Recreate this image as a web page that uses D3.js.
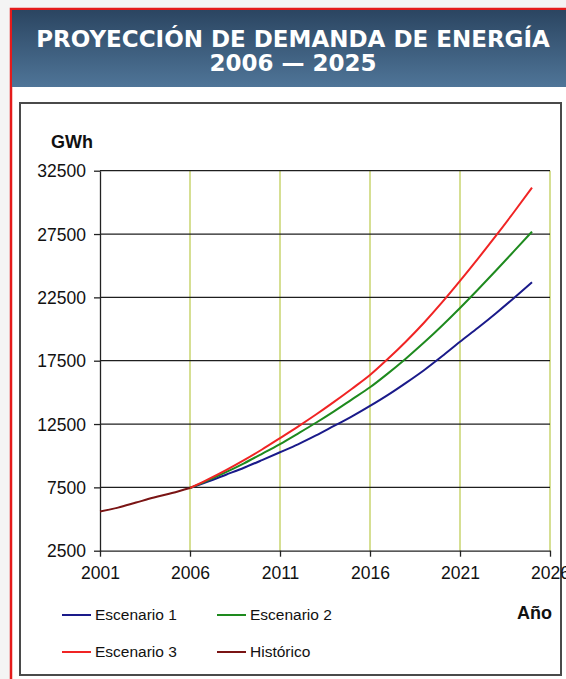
<!DOCTYPE html>
<html>
<head>
<meta charset="utf-8">
<script src="https://cdn.jsdelivr.net/npm/d3@7"></script>
<style>
  html, body { margin: 0; padding: 0; background: #f4f4f4; }
  svg { display: block; }
</style>
</head>
<body>
<div id="chart"></div>
<script>
// Demand projection data (GWh)
const years = [2006, 2007, 2008, 2009, 2010, 2011, 2012, 2013, 2014, 2015,
               2016, 2017, 2018, 2019, 2020, 2021, 2022, 2023, 2024, 2025];
const escenario1 = [7450, 7950, 8500, 9050, 9650, 10270, 10900, 11600, 12350, 13100,
                    13925, 14800, 15750, 16750, 17850, 19000, 20100, 21250, 22450, 23690];
const escenario2 = [7450, 8050, 8700, 9400, 10150, 10920, 11750, 12600, 13500, 14450,
                    15400, 16500, 17680, 18930, 20260, 21660, 23120, 24620, 26150, 27690];
const escenario3 = [7450, 8130, 8860, 9650, 10490, 11390, 12300, 13250, 14250, 15290,
                    16370, 17650, 19020, 20500, 22100, 23800, 25560, 27370, 29240, 31160];
const histYears = [2001, 2002, 2003, 2004, 2005, 2006];
const historico = [5600, 5900, 6300, 6700, 7050, 7450];

const xTicks = [2001, 2006, 2011, 2016, 2021, 2026];
const yTicks = [2500, 7500, 12500, 17500, 22500, 27500, 32500];

const W = 566, H = 679;
const svg = d3.select("#chart").append("svg")
    .attr("width", W)
    .attr("height", H);

// Outer red frame + header
const grad = svg.append("defs").append("linearGradient")
    .attr("id", "hdr").attr("x1", 0).attr("y1", 0).attr("x2", 0).attr("y2", 1);
grad.append("stop").attr("offset", "0%").attr("stop-color", "#2b4561");
grad.append("stop").attr("offset", "100%").attr("stop-color", "#4f7598");

svg.append("rect")
    .attr("x", 11).attr("y", 9).attr("width", 620).attr("height", 700)
    .attr("fill", "#ffffff").attr("stroke", "#e41b1b").attr("stroke-width", 2.5);

svg.append("rect")
    .attr("x", 12).attr("y", 10).attr("width", 610).attr("height", 77)
    .attr("fill", "url(#hdr)");

const title = svg.append("text")
    .attr("text-anchor", "middle")
    .attr("fill", "#ffffff")
    .style("font-family", "'DejaVu Sans', Verdana, sans-serif")
    .style("font-weight", "bold")
    .style("font-size", "23px");
title.append("tspan").attr("x", 293).attr("y", 47).text("PROYECCIÓN DE DEMANDA DE ENERGÍA");
title.append("tspan").attr("x", 293).attr("y", 71).text("2006 — 2025");

// Chart panel border
svg.append("rect")
    .attr("x", 20).attr("y", 103).attr("width", 541).attr("height", 572)
    .attr("fill", "#ffffff").attr("stroke", "#4a4a4a").attr("stroke-width", 2);

// Scales
const x = d3.scaleLinear().domain([2001, 2026]).range([100, 550]);
const y = d3.scaleLinear().domain([2500, 32500]).range([550.7, 170.7]);

const font = "Arial, 'Liberation Sans', sans-serif";
const plot = svg.append("g");

// Vertical grid (yellow-green)
plot.selectAll(".vgrid")
    .data(xTicks.slice(1))
    .enter().append("line")
    .attr("class", "vgrid")
    .attr("x1", d => x(d)).attr("x2", d => x(d))
    .attr("y1", y(32500)).attr("y2", y(2500))
    .attr("stroke", "#c9d46f").attr("stroke-width", 1.5);

// Horizontal grid (black)
plot.selectAll(".hgrid")
    .data(yTicks.slice(1))
    .enter().append("line")
    .attr("class", "hgrid")
    .attr("x1", x(2001)).attr("x2", x(2026))
    .attr("y1", d => y(d)).attr("y2", d => y(d))
    .attr("stroke", "#1e1e1e").attr("stroke-width", 1.3);

// Axes
const xAxis = d3.axisBottom(x).tickValues(xTicks).tickFormat(d3.format("d"))
    .tickSizeInner(6).tickSizeOuter(0).tickPadding(7);
const yAxis = d3.axisLeft(y).tickValues(yTicks).tickFormat(d3.format("d"))
    .tickSizeInner(6).tickSizeOuter(0).tickPadding(8);

const gx = plot.append("g")
    .attr("transform", `translate(0,${y(2500)})`)
    .call(xAxis);
const gy = plot.append("g")
    .attr("transform", `translate(${x(2001)},0)`)
    .call(yAxis);

[gx, gy].forEach(g => {
    g.select(".domain").attr("stroke", "#222").attr("stroke-width", 1.3);
    g.selectAll(".tick line").attr("stroke", "#222").attr("stroke-width", 1.3);
    g.selectAll(".tick text")
        .attr("fill", "#111")
        .style("font-family", font)
        .style("font-size", "17.5px");
});
gy.selectAll(".tick text").attr("dy", "0.35em");
gx.selectAll(".tick text").attr("dy", "0.9em");

// Axis titles
svg.append("text")
    .attr("x", 51).attr("y", 148)
    .style("font-family", font).style("font-weight", "bold").style("font-size", "18px")
    .attr("fill", "#111")
    .text("GWh");
svg.append("text")
    .attr("x", 517).attr("y", 619)
    .style("font-family", font).style("font-weight", "bold").style("font-size", "18px")
    .attr("fill", "#111")
    .text("Año");

// Series
const series = [
    { name: "Escenario 1", xs: years, ys: escenario1, color: "#1a1a8a" },
    { name: "Escenario 2", xs: years, ys: escenario2, color: "#1e8a1e" },
    { name: "Escenario 3", xs: years, ys: escenario3, color: "#f02424" },
    { name: "Histórico", xs: histYears, ys: historico, color: "#7a1414" }
];

const line = d3.line()
    .x(d => x(d[0]))
    .y(d => y(d[1]))
    .curve(d3.curveMonotoneX);

plot.selectAll(".series")
    .data(series)
    .enter().append("path")
    .attr("class", "series")
    .attr("d", s => line(s.xs.map((v, i) => [v, s.ys[i]])))
    .attr("fill", "none")
    .attr("stroke", s => s.color)
    .attr("stroke-width", 2);

// Legend
const legendPos = [
    { lx: 62, ly: 615 }, { lx: 217, ly: 615 },
    { lx: 62, ly: 652 }, { lx: 217, ly: 652 }
];
const legend = svg.selectAll(".legend")
    .data(series)
    .enter().append("g")
    .attr("class", "legend")
    .attr("transform", (d, i) => `translate(${legendPos[i].lx},${legendPos[i].ly})`);

legend.append("line")
    .attr("x1", 0).attr("x2", 29)
    .attr("stroke", d => d.color).attr("stroke-width", 2);
legend.append("text")
    .attr("x", 33).attr("dy", "0.35em")
    .style("font-family", font).style("font-size", "15.5px")
    .attr("fill", "#111")
    .text(d => d.name);
</script>
</body>
</html>
